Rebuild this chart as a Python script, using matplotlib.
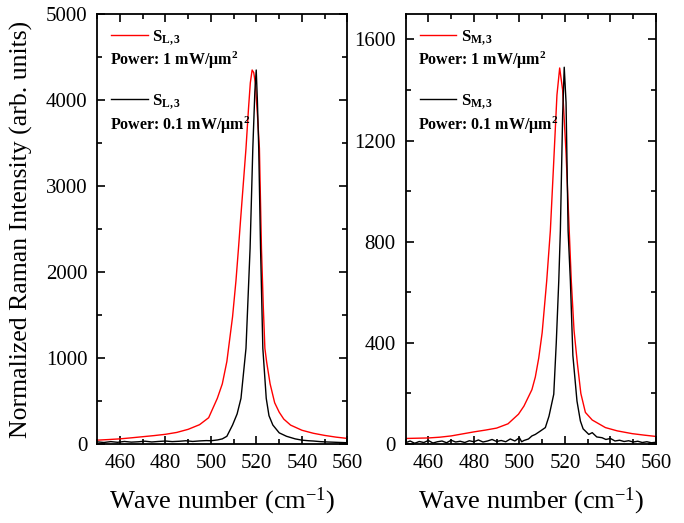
import matplotlib
matplotlib.use('Agg')
import matplotlib.pyplot as plt
from matplotlib.ticker import MultipleLocator

plt.rcParams['font.family'] = ['Liberation Serif', 'DejaVu Serif']
plt.rcParams['mathtext.fontset'] = 'custom'
plt.rcParams['mathtext.rm'] = 'Liberation Serif'
plt.rcParams['mathtext.bf'] = 'Liberation Serif:bold'
plt.rcParams['mathtext.it'] = 'Liberation Serif:italic'

# left panel (S_L,3)
xl_red = [450, 455, 460, 465, 470, 475, 480, 485, 490, 495, 499, 502.8, 505, 507, 509.5, 511, 512.1, 513,
          514, 515.4, 516.5, 517.3, 518.1, 518.8, 519.5, 520.5, 521.3, 522.2, 523, 523.7, 524.5, 526, 528, 530,
          532, 535, 540, 545, 550, 555, 560]
yl_red = [45, 52, 60, 72, 85, 98, 113, 135, 171, 225, 306, 531, 700, 960, 1480, 1900, 2275, 2600,
          2950, 3438, 3900, 4200, 4350, 4320, 4200, 3800, 3438, 2275, 1600, 1113, 950, 700, 480, 370,
          290, 220, 160, 125, 100, 80, 65]

xl_blk = [450, 453, 456, 459, 462, 465, 468, 471, 474, 477, 480, 483, 486, 489, 492, 495, 498, 500, 503,
          505, 507, 509.5, 511.5, 513.2, 515.4, 517.2, 518.4, 519.3, 519.9, 520.4, 521, 521.8, 522.8,
          524.3, 525.5, 527.2, 530, 533.2, 537, 540, 543, 545, 548, 550, 553, 555, 558, 560]
yl_blk = [25, 18, 28, 20, 30, 22, 26, 33, 24, 30, 35, 28, 32, 38, 30, 36, 40, 38, 48,
          60, 90, 221, 350, 531, 1113, 2275, 3438, 4100, 4350, 4000, 3438, 2275, 1113,
          531, 330, 221, 130, 90, 60, 45, 38, 35, 28, 25, 22, 20, 17, 15]

# right panel (S_M,3)
xr_red = [450, 455, 460, 465, 470, 475, 480, 485, 490, 495, 499.6, 502, 505.5, 507, 508.5, 510, 512,
          513.6, 515, 516.5, 517.7, 519, 520.5, 521.9, 522.8, 524, 525.5, 527, 529, 532, 537.8, 543,
          549.6, 555, 560]
yr_red = [22, 23, 24, 27, 32, 40, 48, 55, 63, 80, 118, 150, 215, 265, 340, 440, 645,
          843, 1100, 1380, 1487, 1400, 1150, 843, 645, 450, 317, 200, 125, 95, 65, 52,
          41, 35, 30]

xr_blk = [450, 452, 454, 456, 458, 460, 462, 464, 466, 468, 470, 472, 474, 476, 478, 480, 482, 484,
          486, 488, 490, 492, 494, 496, 498, 500, 501, 502, 504, 505.5, 507, 509, 511.4, 513, 515.1,
          516.2, 517.3, 518, 519, 519.7, 520.5, 521.4, 522.4, 523.5, 525.3, 526.8, 528, 530.5, 532,
          534, 536.3, 538, 540, 542, 544, 546, 548, 550, 552, 554, 556, 558, 560]
yr_blk = [5, 12, 3, 10, 6, 14, 4, 9, 12, 5, 15, 8, 11, 6, 13, 9, 16, 8,
          12, 18, 10, 14, 9, 20, 12, 25, 9, 14, 20, 32, 38, 50, 65, 110, 197,
          400, 645, 843, 1300, 1490, 1350, 843, 645, 350, 170, 91, 60, 38, 45,
          28, 25, 18, 22, 12, 15, 10, 13, 8, 11, 6, 9, 5, 7]

fig, (ax1, ax2) = plt.subplots(1, 2, figsize=(6.84, 5.23), dpi=100)
fig.subplots_adjust(left=0.142, right=0.959, top=0.973, bottom=0.151, wspace=0.232)

panels = [
    (ax1, xl_red, yl_red, xl_blk, yl_blk, r'$\mathbf{S_{L,3}}$', 5000, 1000, 500),
    (ax2, xr_red, yr_red, xr_blk, yr_blk, r'$\mathbf{S_{M,3}}$', 1700, 400, 200),
]

for ax, xr, yr, xb, yb, lab, ymax, ymaj, ymin in panels:
    l1, = ax.plot(xr, yr, color='red', lw=1.0)
    l2, = ax.plot(xb, yb, color='black', lw=1.0)
    ax.set_xlim(450, 560)
    ax.set_ylim(0, ymax)
    ax.xaxis.set_major_locator(MultipleLocator(20))
    ax.xaxis.set_minor_locator(MultipleLocator(10))
    ax.yaxis.set_major_locator(MultipleLocator(ymaj))
    ax.yaxis.set_minor_locator(MultipleLocator(ymin))
    ax.tick_params(which='both', direction='in', top=True, right=True, labelsize=15, width=1.2, pad=7)
    ax.tick_params(which='major', length=6)
    ax.tick_params(which='minor', length=3.5)
    for s in ax.spines.values():
        s.set_linewidth(1.3)
    ax.set_xlabel('Wave number (cm$^{-1}$)', fontsize=19, labelpad=9)
    leg = ax.legend([l1, l2], [lab, lab], loc='upper left', frameon=False, fontsize=12,
                    labelspacing=2.7, handlelength=2.2, handletextpad=0.25,
                    borderaxespad=0.45, bbox_to_anchor=(0.0, 1.0))
    ax.text(0.05, 0.893, r'Power: 1 mW/$\mathregular{\mu}$m$^\mathbf{2}$', transform=ax.transAxes,
            fontsize=11.5, fontweight='bold', va='center')
    ax.text(0.05, 0.742, r'Power: 0.1 mW/$\mathregular{\mu}$m$^\mathbf{2}$', transform=ax.transAxes,
            fontsize=11.5, fontweight='bold', va='center')

ax1.set_ylabel('Normalized Raman Intensity (arb. units)', fontsize=18.5)
ax1.yaxis.set_label_coords(-0.255, 0.5)

fig.savefig('out.png', dpi=100)
